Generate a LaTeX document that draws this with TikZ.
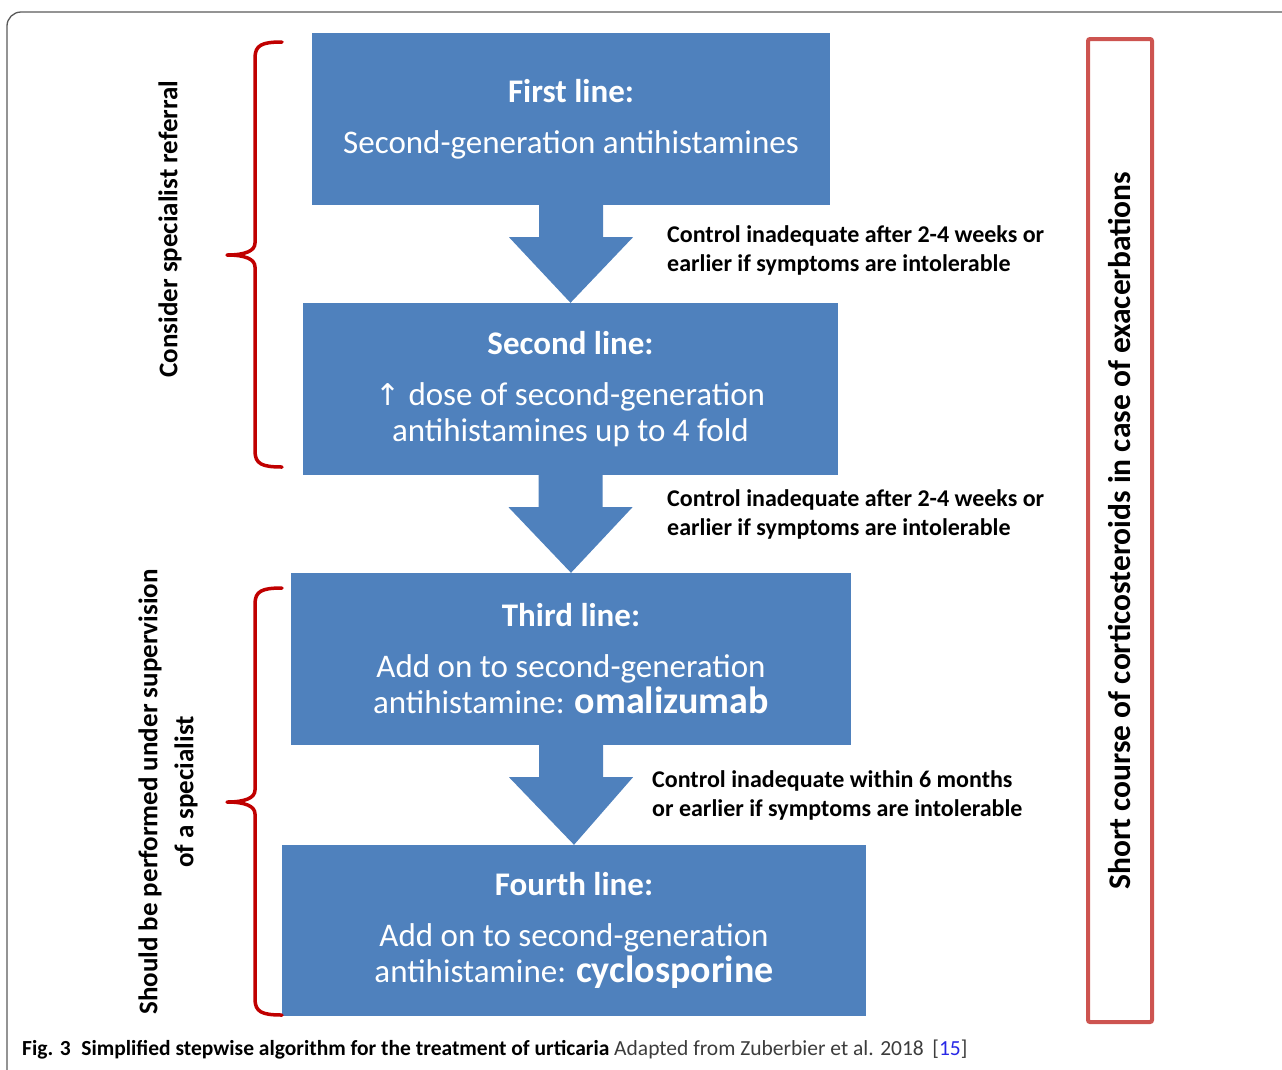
\documentclass[tikz,border=0pt]{standalone}
\usepackage{fontspec}
\setmainfont{Carlito}
\newfontfamily\symfont{DejaVu Sans}
\usetikzlibrary{calc}

\definecolor{stepblue}{RGB}{79,129,189}
\definecolor{bracered}{RGB}{192,0,0}
\definecolor{steroidred}{RGB}{205,84,80}
\definecolor{framegray}{RGB}{90,90,90}
\definecolor{capgray}{RGB}{60,60,60}
\definecolor{refblue}{RGB}{40,40,230}

\tikzset{
  linebox/.style={fill=stepblue, text=white, align=center, inner sep=0pt,
    minimum height=172pt, font=\fontsize{33}{36}\selectfont},
  downarrow/.style={fill=stepblue},
  note/.style={align=left, anchor=west, inner sep=0pt,
    font=\bfseries\fontsize{24}{29}\selectfont},
  sidebrace/.style={draw=bracered, line width=3.5pt, line join=round, line cap=round},
  sidetext/.style={rotate=90, align=center, inner sep=0pt,
    font=\bfseries\fontsize{27}{36}\selectfont},
}

\begin{document}
\begin{tikzpicture}[x=1pt, y=-1pt]
    \useasboundingbox (0,0) rectangle (1282,1069);
    \draw [framegray, line width=1.3pt, rounded corners=14pt] (7,1100) -- (7,12) -- (1300,12);

    \path (571, 119) node [linebox, minimum width=518pt] (first)
        {\textbf{First line:}\\[15pt]Second-generation antihistamines};
    \path (570.5, 389) node [linebox, minimum width=535pt] (second)
        {\textbf{Second line:}\\[15pt]{\symfont\fontsize{30}{36}\selectfont ↑} dose of second-generation\\antihistamines up to 4 fold};
    \path (571, 659) node [linebox, minimum width=560pt] (third)
        {\textbf{Third line:}\\[15pt]Add on to second-generation\\antihistamine: {\bfseries\fontsize{38}{38}\selectfont omalizumab}};
    \path (574, 930.5) node [linebox, minimum width=584pt, minimum height=171pt] (fourth)
        {\textbf{Fourth line:}\\[15pt]Add on to second-generation\\antihistamine: {\bfseries\fontsize{38}{38}\selectfont cyclosporine}};

    \foreach \a/\b in {first/second, second/third, third/fourth}
        \fill [downarrow] ($(\a.south)+(-32,0)$) -- ++(0,32) -- ++(-30,0) -- (\b.north)
            -- ($(\a.south)+(62,32)$) -- ++(-30,0) -- ++(0,-32) -- cycle;

    \path (667, 250.5) node [note] (note1)
        {Control inadequate after 2-4 weeks or\\earlier if symptoms are intolerable};
    \path (667, 514.5) node [note] (note2)
        {Control inadequate after 2-4 weeks or\\earlier if symptoms are intolerable};
    \path (652, 795.5) node [note] (note3)
        {Control inadequate within 6 months\\or earlier if symptoms are intolerable};

    % braces: top / tip / bottom
    \foreach \t/\m/\b in {42/255/467, 588/802/1015}
        \draw [sidebrace] (282,\t) .. controls (262,\t) and (255,\t+3) .. (255,\t+16)
            -- (255,\m-12) .. controls (255,\m-4) and (245,\m) .. (227,\m)
            .. controls (245,\m) and (255,\m+4) .. (255,\m+12)
            -- (255,\b-16) .. controls (255,\b-3) and (262,\b) .. (282,\b);
    \path (170, 229) node [sidetext] (referral) {Consider specialist referral};
    \path (168, 792) node [sidetext] (supervision)
        {Should be performed under supervision\\of a specialist};

    \path (1120, 530.5) node [draw=steroidred, line width=4pt, rounded corners=2pt, rotate=90,
        minimum width=983pt, minimum height=64pt, inner sep=0pt,
        font=\bfseries\fontsize{31.5}{34}\selectfont] (steroids)
        {Short course of corticosteroids in case of exacerbations};

    \path (22, 1050) node [anchor=west, inner sep=0pt, font=\fontsize{21.5}{24}\selectfont] (caption)
        {\textbf{Fig. 3\hspace{0.5em}Simplified stepwise algorithm for the treatment of urticaria}
         \textcolor{capgray}{Adapted from Zuberbier et al. 2018\hspace{0.4em}[\textcolor{refblue}{15}]}};
\end{tikzpicture}
\end{document}
